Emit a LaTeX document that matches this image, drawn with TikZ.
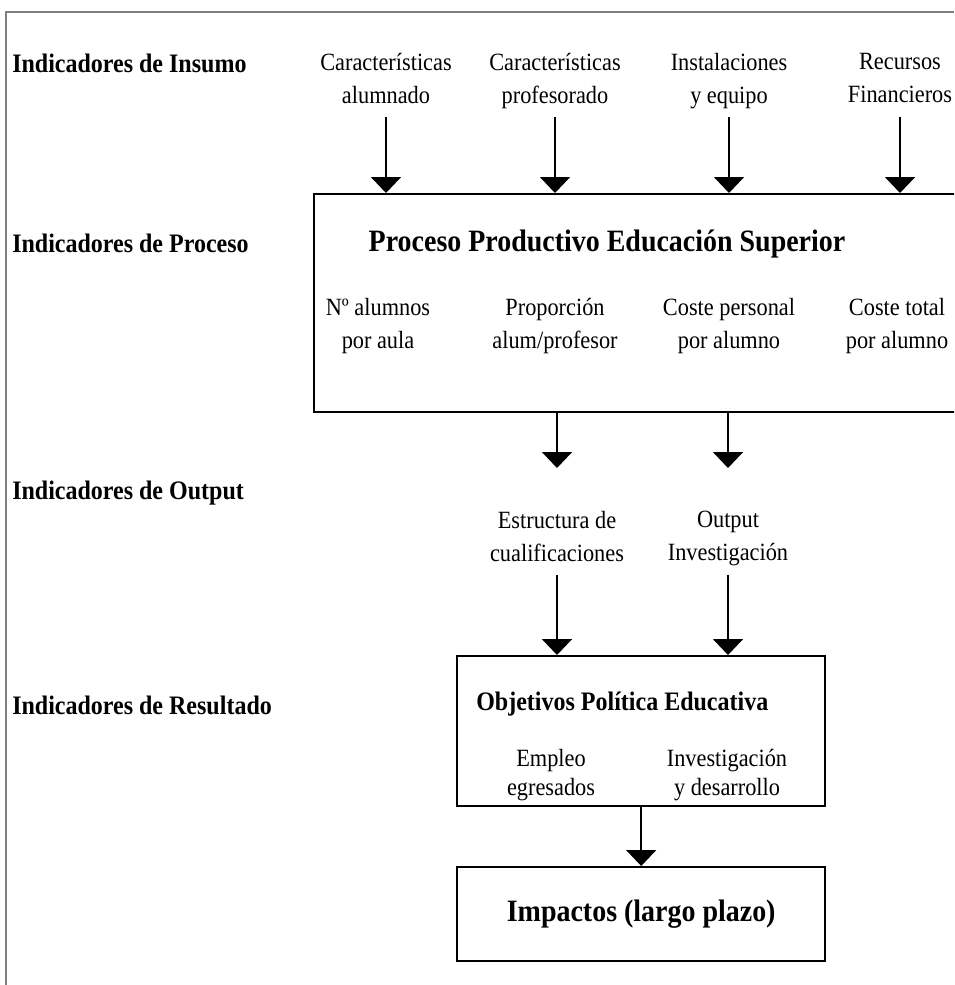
\documentclass[tikz,border=0pt]{standalone}
\usepackage{fontspec}
\setmainfont{Liberation Serif}[FakeStretch=0.9]
\usetikzlibrary{arrows.meta, positioning}

\tikzset{
  lbl/.style={font=\fontsize{18.6}{24.75}\selectfont, align=center, inner sep=0pt,
    execute at begin node=\strut, execute at end node=\strut},
  ind/.style={font=\bfseries\fontsize{20}{24}\selectfont, anchor=west, inner sep=0pt},
  ttl/.style={font=\bfseries\fontsize{23.3}{27}\selectfont, inner sep=0pt},
  box/.style={draw, line width=1.8pt, anchor=north west, inner sep=0pt},
  arr/.style={line width=1.5pt, -{Triangle[width=22.5pt, length=12pt]}},
}

\begin{document}
\begin{tikzpicture}[x=0.75pt, y=-0.75pt]
  \useasboundingbox (0,0) rectangle (954,985);
  \clip (0,0) rectangle (954,985);
  % frame
  \draw[gray, line width=1.2pt] (6,985) -- (6,12) -- (954,12);

  % Insumo
  \node[ind] (insumo) at (12,63) {Indicadores de Insumo};
  \node[lbl] (alum) at (386,83) {Características\\alumnado};
  \node[lbl] (prof) at (555,83) {Características\\profesorado};
  \node[lbl] (inst) at (729,83) {Instalaciones\\y equipo};
  \node[lbl] (recu) at (900,83) {Recursos\\Financieros};

  % Proceso
  \node[ind] (proceso) at (12,243) {Indicadores de Proceso};
  \node[box, minimum width=525pt, minimum height=163.5pt] (proc) at (313,193) {};
  \node[ttl] (proct) at (607,244) {Proceso Productivo Educación Superior};
  \node[lbl] (naula) at (378,328) {Nº alumnos\\por aula};
  \node[lbl] (ratio) at (555,328) {Proporción\\alum/profesor};
  \node[lbl] (cpers) at (729,328) {Coste personal\\por alumno};
  \node[lbl] (ctot) at (897,328) {Coste total\\por alumno};
  \foreach \n in {alum, prof, inst, recu}
    \draw[arr, shorten <=3pt] (\n) -- (\n |- proc.north);

  % Output
  \node[ind] (output) at (12,493) {Indicadores de Output};
  \node[lbl] (estr) at (557,541) {Estructura de\\cualificaciones};
  \node[lbl] (oinv) at (728,541) {Output\\Investigación};
  \coordinate (t1) at (557,468);
  \coordinate (t2) at (728,468);
  \draw[arr] (t1 |- proc.south) -- (t1);
  \draw[arr] (t2 |- proc.south) -- (t2);

  % Resultado
  \node[ind] (resultado) at (12,705) {Indicadores de Resultado};
  \node[box, minimum width=276pt, minimum height=112.5pt] (obj) at (456,655) {};
  \node[ind] (objt) at (476,704) {Objetivos Política Educativa};
  \node[lbl, font=\fontsize{18.6}{22}\selectfont] (empl) at (551,777) {Empleo\\egresados};
  \node[lbl, font=\fontsize{18.6}{22}\selectfont] (idi) at (727,777) {Investigación\\y desarrollo};
  \draw[arr, shorten <=3pt] (estr) -- (estr |- obj.north);
  \draw[arr, shorten <=3pt] (oinv) -- (oinv |- obj.north);

  % Impactos
  \node[box, ttl, minimum width=276pt, minimum height=70.5pt] (imp) at (456,866) {Impactos (largo plazo)};
  \draw[arr] (obj) -- (imp);
\end{tikzpicture}
\end{document}
